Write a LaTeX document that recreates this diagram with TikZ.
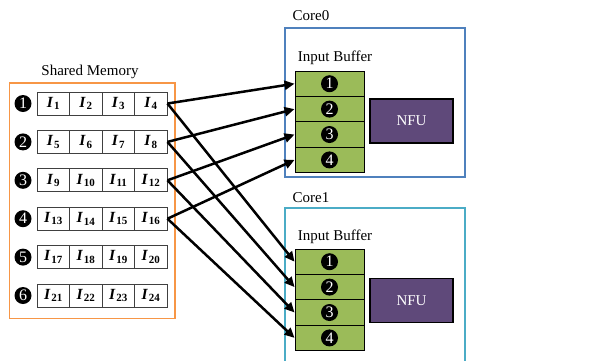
\documentclass[tikz,border=0pt]{standalone}
\usepackage{fontspec}
\setmainfont{Liberation Serif}
\usetikzlibrary{arrows.meta}
\definecolor{memorange}{HTML}{F79646}
\definecolor{coreblue}{HTML}{4F81BD}
\definecolor{coreteal}{HTML}{4BACC6}
\definecolor{bufgreen}{HTML}{9BBB59}
\definecolor{nfupurple}{HTML}{5F497A}
\tikzset{
  lbl/.style={font=\fontsize{15}{17}\selectfont, inner sep=0pt},
  memcell/.style={draw=black!75, line width=0.9pt, minimum width=32.5pt, minimum height=23pt, inner sep=0pt, font=\fontsize{15.5}{17}\selectfont},
  bufcell/.style={draw=black, line width=0.9pt, fill=bufgreen, minimum width=69pt, minimum height=25.4pt, inner sep=0pt},
  numdot/.style={circle, fill=black, text=white, minimum size=17pt, inner sep=0pt, font=\fontsize{16}{16}\selectfont},
  nfubox/.style={draw=black, line width=1.2pt, fill=nfupurple, text=white, minimum width=83pt, minimum height=44pt, inner sep=0pt, font=\fontsize{15}{17}\selectfont},
  link/.style={line width=2.5pt, -{Triangle[length=10pt,width=9pt]}},
}
\newcommand{\Ilab}[1]{\textbf{\textit{I}}\kern0.6pt{\fontsize{11}{11}\selectfont\raisebox{-2.5pt}{\textbf{#1}}}}
\begin{document}
\begin{tikzpicture}[x=1pt,y=-1pt]
\useasboundingbox (0,0) rectangle (601,360);

% ---- shared memory ----
\node[lbl] (smlabel) at (90,72) {Shared Memory};
\draw[memorange, line width=1.5pt] (9.5,83) rectangle (175,318.5);
\foreach \r in {1,...,6}{
  \pgfmathsetmacro{\yy}{103.5+(\r-1)*38.4}
  \node[numdot] (md\r) at (23,\yy) {\r};
  \foreach \k in {1,...,4}{
    \pgfmathsetmacro{\xx}{37+32.5*(\k-0.5)}
    \pgfmathtruncatemacro{\idx}{(\r-1)*4+\k}
    \node[memcell] (m\r c\k) at (\xx,\yy) {\Ilab{\idx}};
  }
}

% ---- core 0 ----
\node[lbl] (c0label) at (311,16) {Core0};
\draw[coreblue, line width=1.5pt] (285,28) rectangle (465,177);
\node[lbl] (ib0label) at (335,58) {Input Buffer};
\foreach \k in {1,...,4}{
  \pgfmathsetmacro{\yy}{71+25.4*(\k-0.5)}
  \node[bufcell] (a\k) at (329.5,\yy) {};
  \node[numdot] (ad\k) at (a\k) {\k};
}
\node[nfubox] (nfu0) at (411.5,121) {NFU};

% ---- core 1 ----
\node[lbl] (c1label) at (311,198) {Core1};
\draw[coreteal, line width=1.5pt] (285,365) |- (465,208) -- (465,365);
\node[lbl] (ib1label) at (335,237) {Input Buffer};
\foreach \k in {1,...,4}{
  \pgfmathsetmacro{\yy}{249+25.4*(\k-0.5)}
  \node[bufcell] (b\k) at (329.5,\yy) {};
  \node[numdot] (bd\k) at (b\k) {\k};
}
\node[nfubox] (nfu1) at (411.5,300.5) {NFU};

% ---- transfers from memory rows to both buffers ----
\foreach \r in {1,...,4}{
  \draw[link] (m\r c4.east) -- (a\r.west);
  \draw[link] (m\r c4.east) -- (b\r.west);
}
\end{tikzpicture}
\end{document}
